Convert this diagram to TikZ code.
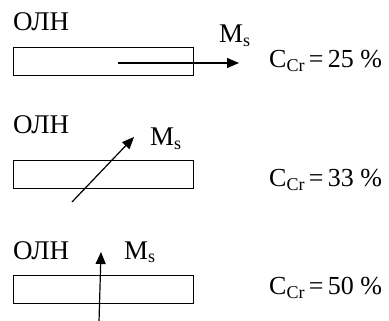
\documentclass[tikz,border=0pt]{standalone}
\usepackage{fontspec}
\setmainfont{Liberation Serif}
\usepackage{tikz}
\usetikzlibrary{arrows.meta,positioning}
\newcommand{\lowidx}[1]{\raisebox{-0.3ex}{\fontsize{18}{20}\selectfont #1}}

\begin{document}
\begin{tikzpicture}[x=1pt, y=-1pt,
  axisbox/.style={draw, line width=1.1pt, minimum width=180pt, minimum height=28pt,
                  inner sep=0pt, anchor=north west},
  lbl/.style={anchor=base west, inner sep=0pt, font=\fontsize{27}{31}\selectfont},
  conc/.style={anchor=west, inner sep=0pt, font=\fontsize{26}{30}\selectfont},
  arr/.style={-{Triangle[length=12pt,width=10pt]}, line width=1.2pt}
]
\useasboundingbox (0,0) rectangle (389,321);
% 25 %
\node[lbl] (oln1) at (13,31) {ОЛН};
\node[axisbox] (bar1) at (13,47) {};
\node[lbl] (ms1) at (219,43) {M\lowidx{s}};
\node[conc] (cc1) at (269,61) {C\lowidx{Cr}\,=\,25 \%};
\coordinate (a1) at (118,63);
\coordinate (b1) at (239,63);
\draw[arr] (a1) -- (b1);
% 33 %
\node[lbl] (oln2) at (13,134) {ОЛН};
\node[axisbox] (bar2) at (13,160) {};
\node[lbl] (ms2) at (150,146) {M\lowidx{s}};
\node[conc] (cc2) at (269,180) {C\lowidx{Cr}\,=\,33 \%};
\coordinate (a2) at (72,202);
\coordinate (b2) at (134,137);
\draw[arr] (a2) -- (b2);
% 50 %
\node[lbl] (oln3) at (13,259) {ОЛН};
\node[axisbox] (bar3) at (13,275) {};
\node[lbl] (ms3) at (124,259) {M\lowidx{s}};
\node[conc] (cc3) at (269,288) {C\lowidx{Cr}\,=\,50 \%};
\coordinate (a3) at (99,322);
\coordinate (b3) at (101,252);
\draw[arr] (a3) -- (b3);
\end{tikzpicture}
\end{document}
